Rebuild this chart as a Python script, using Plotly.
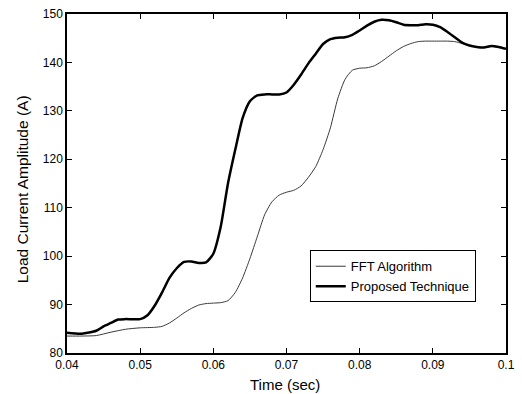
import plotly.graph_objects as go

time_fft = [0.040, 0.042, 0.044, 0.046, 0.048, 0.050, 0.052, 0.053, 0.054, 0.055, 0.056, 0.057,
            0.058, 0.059, 0.060, 0.061, 0.062, 0.063, 0.064, 0.065, 0.066, 0.067, 0.068, 0.069,
            0.070, 0.071, 0.072, 0.073, 0.074, 0.075, 0.076, 0.077, 0.078, 0.079, 0.080, 0.081,
            0.082, 0.083, 0.084, 0.085, 0.086, 0.087, 0.088, 0.089, 0.090, 0.091, 0.092, 0.093,
            0.094, 0.095, 0.096, 0.097, 0.098, 0.099, 0.100]
fft_values = [83.5, 83.5, 83.6, 84.3, 84.9, 85.2, 85.3, 85.5, 86.2, 87.2, 88.3, 89.2,
              89.9, 90.2, 90.3, 90.4, 90.8, 92.5, 95.5, 99.5, 104.0, 108.5, 111.2, 112.6,
              113.2, 113.6, 114.5, 116.3, 118.5, 122.0, 126.5, 132.5, 136.5, 138.4, 138.8, 138.9,
              139.3, 140.2, 141.3, 142.4, 143.3, 143.9, 144.3, 144.4, 144.4, 144.4, 144.4, 144.3,
              143.9, 143.5, 143.2, 143.1, 143.3, 143.1, 142.8]

time_prop = [0.040, 0.042, 0.044, 0.045, 0.046, 0.047, 0.048, 0.050, 0.051, 0.052, 0.053, 0.054,
             0.055, 0.056, 0.057, 0.058, 0.059, 0.060, 0.061, 0.062, 0.063, 0.064, 0.065, 0.066,
             0.067, 0.068, 0.069, 0.070, 0.071, 0.072, 0.073, 0.074, 0.075, 0.076, 0.077, 0.078,
             0.079, 0.080, 0.081, 0.082, 0.083, 0.084, 0.085, 0.086, 0.087, 0.088, 0.089, 0.090,
             0.091, 0.092, 0.093, 0.094, 0.095, 0.096, 0.097, 0.098, 0.099, 0.100]
prop_values = [84.2, 84.0, 84.6, 85.5, 86.2, 86.9, 87.0, 87.0, 87.8, 89.8, 92.5, 95.5,
               97.5, 98.8, 98.9, 98.6, 98.7, 100.5, 106.0, 115.0, 122.0, 128.5, 132.0, 133.2,
               133.4, 133.4, 133.4, 133.8, 135.4, 137.5, 139.8, 141.8, 143.8, 144.8, 145.1, 145.2,
               145.7, 146.6, 147.6, 148.4, 148.8, 148.7, 148.3, 147.8, 147.7, 147.7, 147.9, 147.8,
               147.3, 146.3, 145.2, 144.1, 143.5, 143.2, 143.1, 143.4, 143.2, 142.8]

x_ticks = [0.04, 0.05, 0.06, 0.07, 0.08, 0.09, 0.1]
x_labels = ["0.04", "0.05", "0.06", "0.07", "0.08", "0.09", "0.1"]
y_ticks = [80, 90, 100, 110, 120, 130, 140, 150]
x_title = "Time (sec)"
y_title = "Load Current Amplitude (A)"

FONT = "Liberation Sans, Arial, sans-serif"

fig = go.Figure()
fig.add_trace(go.Scatter(x=time_fft, y=fft_values, mode="lines", name="FFT Algorithm",
                         line=dict(color="#3a3a3a", width=1, shape="spline", smoothing=0.6)))
fig.add_trace(go.Scatter(x=time_prop, y=prop_values, mode="lines", name="Proposed Technique",
                         line=dict(color="black", width=2.5, shape="spline", smoothing=0.6)))

axis_common = dict(showgrid=False, zeroline=False, showline=True, linecolor="black", linewidth=1.5,
                   mirror="ticks", ticks="inside", ticklen=5, tickcolor="black", tickwidth=1,
                   ticklabeloverflow="allow",
                   tickfont=dict(family=FONT, size=12, color="black"))

fig.update_layout(
    width=522, height=394,
    margin=dict(l=67, r=7, t=14, b=41),
    paper_bgcolor="white", plot_bgcolor="white",
    font=dict(family=FONT, size=12, color="black"),
    xaxis=dict(range=[0.04, 0.1], tickvals=x_ticks, ticktext=x_labels, **axis_common),
    yaxis=dict(range=[80, 150], tickvals=y_ticks, **axis_common),
    legend=dict(x=0.553, y=0.303, xanchor="left", yanchor="top", bgcolor="white",
                bordercolor="black", borderwidth=1, itemwidth=30, tracegroupgap=0,
                font=dict(size=13, family=FONT)),
    showlegend=True,
    annotations=[
        dict(text=x_title, xref="paper", yref="paper", x=0.496, y=-0.092,
             xanchor="center", yanchor="middle", showarrow=False, font=dict(size=15, family=FONT)),
        dict(text=y_title, xref="paper", yref="paper", x=0, y=0.483, xshift=-45,
             xanchor="center", yanchor="middle", textangle=-90, showarrow=False,
             font=dict(size=15.5, family=FONT)),
    ],
)

fig.write_html("out.html", config={"displayModeBar": False},
               post_script="document.body.style.margin='0';")
